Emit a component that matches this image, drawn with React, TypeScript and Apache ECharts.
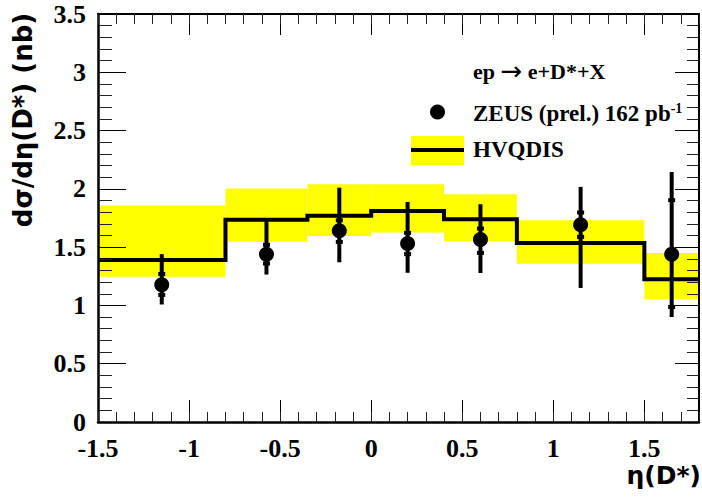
import React, { useEffect, useRef } from "react";
import * as echarts from "echarts";

// HVQDIS prediction: bin edges, central values and uncertainty band
const binEdges = [-1.5, -0.8, -0.35, 0, 0.4, 0.8, 1.5, 1.8];
const hvqdis = [1.39, 1.735, 1.77, 1.81, 1.74, 1.535, 1.225];
const bandLow = [1.245, 1.547, 1.595, 1.625, 1.55, 1.358, 1.05];
const bandHigh = [1.857, 2.002, 2.04, 2.04, 1.954, 1.73, 1.45];

// ZEUS (prel.) data points
const etaCenters = [-1.15, -0.575, -0.175, 0.2, 0.6, 1.15, 1.65];
const zeus = [1.178, 1.44, 1.64, 1.532, 1.565, 1.693, 1.438];
const totLow = [1.008, 1.265, 1.37, 1.28, 1.278, 1.15, 0.9];
const totHigh = [1.44, 1.722, 2.01, 1.888, 1.868, 2.017, 2.145];
const statLow = [1.09, 1.36, 1.545, 1.44, 1.451, 1.588, 0.987];
const statHigh = [1.27, 1.52, 1.73, 1.622, 1.66, 1.797, 1.903];

const xTickLabels = ["-1.5", "-1", "-0.5", "0", "0.5", "1", "1.5"];
const yTickLabels = ["0", "0.5", "1", "1.5", "2", "2.5", "3", "3.5"];

const X_MIN = -1.5;
const X_MAX = 1.8;
const Y_MIN = 0;
const Y_MAX = 3.5;

const tickFont = {
  fontFamily: "Liberation Serif",
  fontWeight: "bold" as const,
  fontSize: 26,
  color: "#000",
};

export default function App() {
  const ref = useRef<HTMLDivElement>(null);

  useEffect(() => {
    if (!ref.current) return;
    const chart = echarts.init(ref.current, null, { renderer: "svg" });

    const bandData = hvqdis.map((_, i) => [
      binEdges[i],
      binEdges[i + 1],
      bandLow[i],
      bandHigh[i],
    ]);
    const stepData: number[][] = [];
    hvqdis.forEach((v, i) => {
      stepData.push([binEdges[i], v]);
      stepData.push([binEdges[i + 1], v]);
    });
    const errData = etaCenters.map((x, i) => [
      x,
      totLow[i],
      totHigh[i],
      statLow[i],
      statHigh[i],
    ]);
    const pointData = etaCenters.map((x, i) => [x, zeus[i]]);

    const fmtX = (v: number) => {
      const s = String(Math.round(v * 10) / 10);
      return xTickLabels.includes(s) ? s : "";
    };
    const fmtY = (v: number) => {
      const s = String(Math.round(v * 10) / 10);
      return yTickLabels.includes(s) ? s : "";
    };

    const baseX = {
      type: "value" as const,
      min: X_MIN,
      max: X_MAX,
      splitLine: { show: false },
      z: 10,
    };
    const baseY = {
      type: "value" as const,
      min: Y_MIN,
      max: Y_MAX,
      interval: 0.5,
      splitLine: { show: false },
      z: 10,
    };

    chart.setOption({
      animation: false,
      backgroundColor: "#fff",
      grid: { left: 98, top: 14, width: 603, height: 408, containLabel: false },
      xAxis: [
        {
          ...baseX,
          position: "bottom",
          interval: 0.5,
          axisLine: { show: true, onZero: false, lineStyle: { color: "#000", width: 2.5 } },
          axisTick: { show: true, inside: true, length: 22, lineStyle: { color: "#000", width: 1 } },
          axisLabel: { show: true, margin: 13, formatter: fmtX, ...tickFont },
        },
        {
          ...baseX,
          position: "bottom",
          interval: 0.1,
          axisLine: { show: false, onZero: false },
          axisTick: { show: true, inside: true, length: 10, lineStyle: { color: "#222", width: 1 } },
          axisLabel: { show: false },
        },
        {
          ...baseX,
          position: "top",
          interval: 0.5,
          axisLine: { show: true, onZero: false, lineStyle: { color: "#000", width: 2 } },
          axisTick: { show: true, inside: true, length: 21, lineStyle: { color: "#000", width: 1 } },
          axisLabel: { show: false },
        },
        {
          ...baseX,
          position: "top",
          interval: 0.1,
          axisLine: { show: false, onZero: false },
          axisTick: { show: true, inside: true, length: 10, lineStyle: { color: "#222", width: 1 } },
          axisLabel: { show: false },
        },
      ],
      yAxis: [
        {
          ...baseY,
          position: "left",
          axisLine: { show: true, onZero: false, lineStyle: { color: "#000", width: 2.5 } },
          axisTick: { show: true, inside: true, length: 28, lineStyle: { color: "#000", width: 1 } },
          minorTick: { show: true, splitNumber: 5, length: 14, lineStyle: { color: "#222", width: 1 } },
          axisLabel: { show: true, margin: 12, formatter: fmtY, ...tickFont },
        },
        {
          ...baseY,
          position: "right",
          axisLine: { show: true, onZero: false, lineStyle: { color: "#000", width: 2 } },
          axisTick: { show: true, inside: true, length: 24, lineStyle: { color: "#000", width: 1 } },
          minorTick: { show: true, splitNumber: 5, length: 12, lineStyle: { color: "#222", width: 1 } },
          axisLabel: { show: false },
        },
      ],
      series: [
        {
          name: "HVQDIS band",
          type: "custom",
          xAxisIndex: 0,
          yAxisIndex: 0,
          z: 1,
          encode: { x: [0, 1], y: [2, 3] },
          data: bandData,
          renderItem: (params: any, api: any) => {
            const p1 = api.coord([api.value(0), api.value(3)]);
            const p2 = api.coord([api.value(1), api.value(2)]);
            return {
              type: "rect",
              shape: { x: p1[0], y: p1[1], width: p2[0] - p1[0], height: p2[1] - p1[1] },
              style: { fill: "#ffff00" },
            };
          },
        },
        {
          name: "HVQDIS",
          type: "line",
          xAxisIndex: 0,
          yAxisIndex: 0,
          z: 2,
          data: stepData,
          symbol: "none",
          lineStyle: { color: "#000", width: 4, join: "miter", cap: "butt" },
        },
        {
          name: "ZEUS errors",
          type: "custom",
          xAxisIndex: 0,
          yAxisIndex: 0,
          z: 3,
          encode: { x: 0, y: [1, 2] },
          data: errData,
          renderItem: (params: any, api: any) => {
            const x = api.value(0);
            const lo = api.coord([x, api.value(1)]);
            const hi = api.coord([x, api.value(2)]);
            const sLo = api.coord([x, api.value(3)]);
            const sHi = api.coord([x, api.value(4)]);
            return {
              type: "group",
              children: [
                {
                  type: "line",
                  shape: { x1: lo[0], y1: lo[1], x2: hi[0], y2: hi[1] },
                  style: { stroke: "#000", lineWidth: 4 },
                },
                {
                  type: "rect",
                  shape: { x: sLo[0] - 3.5, y: sLo[1] - 2, width: 7, height: 4 },
                  style: { fill: "#000" },
                },
                {
                  type: "rect",
                  shape: { x: sHi[0] - 3.5, y: sHi[1] - 2, width: 7, height: 4 },
                  style: { fill: "#000" },
                },
              ],
            };
          },
        },
        {
          name: "ZEUS (prel.) 162 pb-1",
          type: "scatter",
          xAxisIndex: 0,
          yAxisIndex: 0,
          z: 4,
          data: pointData,
          symbol: "circle",
          symbolSize: 15,
          itemStyle: { color: "#000", opacity: 1 },
          emphasis: { disabled: true },
        },
      ],
      graphic: [
        {
          type: "text",
          x: 23,
          y: 120,
          rotation: Math.PI / 2,
          style: {
            text: "dσ/dη(D*) (nb)",
            fontFamily: "DejaVu Sans",
            fontWeight: "bold",
            fontSize: 26,
            fill: "#000",
            align: "center",
            verticalAlign: "middle",
          },
        },
        {
          type: "text",
          x: 701,
          y: 475,
          style: {
            text: "η(D*)",
            fontFamily: "DejaVu Sans",
            fontWeight: "bold",
            fontSize: 25,
            fill: "#000",
            align: "right",
            verticalAlign: "middle",
          },
        },
        {
          type: "text",
          x: 473,
          y: 71,
          style: {
            text: "{m|ep }{a|→}{m| e+D*+X}",
            align: "left",
            verticalAlign: "middle",
            rich: {
              m: {
                fontFamily: "Liberation Serif",
                fontWeight: "bold",
                fontSize: 22,
                color: "#000",
              },
              a: {
                fontFamily: "DejaVu Sans",
                fontWeight: "normal",
                fontSize: 26,
                color: "#000",
              },
            },
          },
        },
        {
          type: "circle",
          shape: { cx: 437.5, cy: 112, r: 7.5 },
          style: { fill: "#000" },
        },
        {
          type: "text",
          x: 473,
          y: 113,
          style: {
            text: "{m|ZEUS (prel.) 162 pb}{s|-1}",
            align: "left",
            verticalAlign: "middle",
            rich: {
              m: {
                fontFamily: "Liberation Serif",
                fontWeight: "bold",
                fontSize: 23,
                color: "#000",
                verticalAlign: "bottom",
              },
              s: {
                fontFamily: "Liberation Serif",
                fontWeight: "bold",
                fontSize: 14,
                color: "#000",
                verticalAlign: "top",
              },
            },
          },
        },
        {
          type: "rect",
          shape: { x: 411, y: 136, width: 53, height: 29 },
          style: { fill: "#ffff00" },
        },
        {
          type: "line",
          shape: { x1: 411, y1: 150, x2: 464, y2: 150 },
          style: { stroke: "#000", lineWidth: 4 },
        },
        {
          type: "text",
          x: 473,
          y: 149,
          style: {
            text: "HVQDIS",
            fontFamily: "Liberation Serif",
            fontWeight: "bold",
            fontSize: 23,
            fill: "#000",
            align: "left",
            verticalAlign: "middle",
          },
        },
      ],
    });

    return () => {
      chart.dispose();
    };
  }, []);

  return (
    <div
      ref={ref}
      style={{ position: "absolute", left: 0, top: 0, width: 702, height: 497, background: "#fff" }}
    />
  );
}
